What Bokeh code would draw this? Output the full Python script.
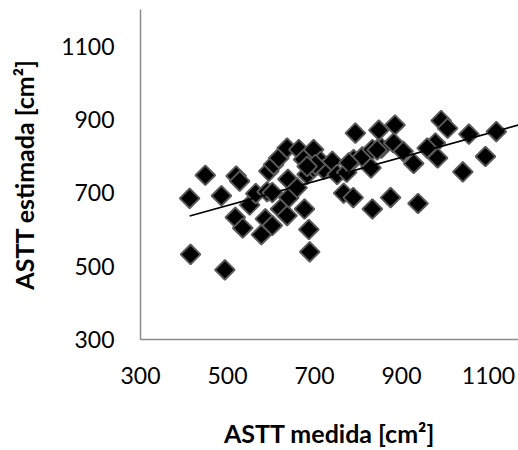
import numpy as np
from bokeh.plotting import figure
from bokeh.models import FixedTicker, Range1d
from bokeh.embed import file_html
from bokeh.resources import INLINE

x_medida = [413, 449, 486, 415, 494, 520, 528, 518, 535, 551, 565, 578, 587, 603, 591, 603,
            595, 606, 618, 637, 622, 637, 641, 639, 660, 664, 675, 677, 687, 689, 683, 698,
            698, 714, 721, 741, 752, 774, 767, 789, 794, 790, 810, 830, 833, 833, 848, 854,
            875, 885, 882, 904, 928, 938, 978, 983, 991, 1006, 1041, 1055, 1093, 1118, 959,
            702, 683, 779, 844]
y_estimada = [685, 748, 692, 532, 490, 746, 732, 633, 604, 667, 698, 586, 629, 611, 703, 701,
              759, 777, 795, 822, 656, 638, 687, 737, 714, 818, 791, 656, 600, 539, 750, 818,
              768, 786, 764, 786, 750, 756, 699, 687, 863, 791, 798, 768, 818, 656, 871, 822,
              687, 885, 836, 813, 780, 671, 836, 795, 897, 876, 757, 860, 799, 867, 822,
              777, 772, 782, 817]

trend_slope = 0.328
trend_intercept = 501.5
trend_x = [413, 1200]

ticks = [300, 500, 700, 900, 1100]
x_title = "ASTT medida [cm²]"
y_title = "ASTT estimada [cm²]"

p = figure(width=518, height=450, output_backend="svg", toolbar_location=None,
           x_range=Range1d(300, 1169), y_range=Range1d(300, 1200),
           min_border_left=140, min_border_right=0, min_border_top=9, min_border_bottom=108)
p.outline_line_color = None
p.grid.grid_line_color = None
p.background_fill_color = "white"
p.border_fill_color = "white"

p.scatter(x_medida, y_estimada, marker="square", size=14, angle=np.pi / 4,
          fill_color="black", line_color="#5a5a5a", line_width=1.9)

ty = [trend_slope * v + trend_intercept for v in trend_x]
p.line(trend_x, ty, line_color="black", line_width=1.6)

for ax in (p.xaxis[0], p.yaxis[0]):
    ax.ticker = FixedTicker(ticks=ticks)
    ax.axis_line_color = "#8c8c8c"
    ax.axis_line_width = 1.5
    ax.major_tick_line_color = None
    ax.minor_tick_line_color = None
    ax.major_tick_out = 0
    ax.major_tick_in = 0
    ax.major_label_text_font = "Lato"
    ax.major_label_text_font_size = "23px"
    ax.major_label_text_color = "black"
    ax.axis_label_text_font = "Lato"
    ax.axis_label_text_font_size = "25px"
    ax.axis_label_text_font_style = "bold"
    ax.axis_label_text_color = "black"

p.xaxis.axis_label = x_title
p.yaxis.axis_label = y_title
p.xaxis.major_label_standoff = 27
p.xaxis.axis_label_standoff = 31
p.yaxis.major_label_standoff = 26
p.yaxis.axis_label_standoff = 19

open("out.html", "w").write(file_html(p, INLINE))
